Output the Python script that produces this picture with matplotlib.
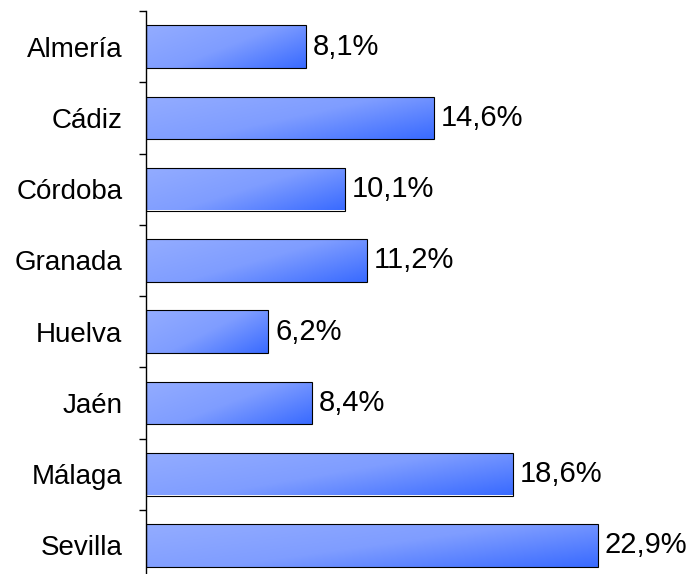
import matplotlib
matplotlib.use("Agg")
import matplotlib.pyplot as plt
import numpy as np
from matplotlib.colors import LinearSegmentedColormap
from matplotlib.patches import Rectangle

provinces = ["Almería", "Cádiz", "Córdoba", "Granada", "Huelva", "Jaén", "Málaga", "Sevilla"]
shares = [8.1, 14.6, 10.1, 11.2, 6.2, 8.4, 18.6, 22.9]
share_labels = ["8,1%", "14,6%", "10,1%", "11,2%", "6,2%", "8,4%", "18,6%", "22,9%"]

plt.rcParams["font.family"] = ["Liberation Sans", "DejaVu Sans"]

W, H = 695, 574
fig = plt.figure(figsize=(W / 100, H / 100), dpi=100)
# axes spans past the bottom edge, as in the original export
ax = fig.add_axes([146 / W, -7 / H, 493 / W, 570 / H])

cmap = LinearSegmentedColormap.from_list("bar", ["#93acff", "#7f9dff", "#3a6bff"])
bar_h = 0.6
ys = np.arange(len(provinces))

bars = ax.barh(ys, shares, height=bar_h, color="none", edgecolor="black",
               linewidth=0.8, zorder=3)
gx, gy = np.meshgrid(np.linspace(0, 1, 100), np.linspace(0, 1, 30))
grad = (gx * 0.6 + gy * 0.4)
for bar, val in zip(bars, shares):
    y0 = bar.get_y()
    im = ax.imshow(grad, cmap=cmap, extent=[0, val, y0 + bar_h, y0],
                   aspect="auto", origin="upper", zorder=2, interpolation="bilinear")
    clip = Rectangle((0, y0), val, bar_h, transform=ax.transData)
    im.set_clip_path(clip)

for y, val, lab in zip(ys, shares, share_labels):
    ax.annotate(lab, (val, y), xytext=(5, 0), textcoords="offset points",
                ha="left", va="center", fontsize=21, annotation_clip=False)

ax.set_xlim(0, 25)
ax.set_ylim(len(provinces) - 0.5, -0.5)
ax.set_yticks(ys)
ax.set_yticklabels(provinces, fontsize=20)
ax.set_yticks(np.arange(-0.5, len(provinces), 1), minor=True)
ax.tick_params(axis="y", which="major", length=0, pad=17)
ax.tick_params(axis="y", which="minor", length=5, width=1, direction="out")
ax.set_xticks([])
for s in ["top", "right", "bottom"]:
    ax.spines[s].set_visible(False)
ax.spines["left"].set_linewidth(1)

fig.savefig("out.png", dpi=100)
